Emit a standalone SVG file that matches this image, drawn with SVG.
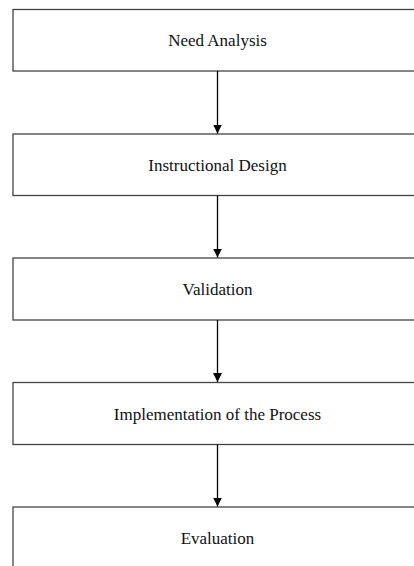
<svg xmlns="http://www.w3.org/2000/svg" width="414" height="566" viewBox="0 0 414 566">
<style>
.box{fill:#fff;stroke:#444;stroke-width:1.3}
.lbl{font-family:"Liberation Serif","Times New Roman",serif;font-size:17px;fill:#111;text-anchor:middle}
.con{stroke:#000;stroke-width:1.3;fill:none}
</style>
<defs>
<marker id="ah" markerUnits="userSpaceOnUse" markerWidth="10" markerHeight="9" refX="9" refY="4.5" orient="auto">
<path d="M0,0 L9,4.5 L0,9 Z" fill="#000"/>
</marker>
</defs>
<rect width="414" height="566" fill="#fff"/>
<g id="n1"><rect class="box" x="13" y="9.5" width="410" height="61.5"/><text class="lbl" x="217.5" y="46">Need Analysis</text></g>
<g id="n2"><rect class="box" x="13" y="134" width="410" height="61.5"/><text class="lbl" x="217.5" y="170.5">Instructional Design</text></g>
<g id="n3"><rect class="box" x="13" y="258" width="410" height="62"/><text class="lbl" x="217.5" y="295">Validation</text></g>
<g id="n4"><rect class="box" x="13" y="382.5" width="410" height="62"/><text class="lbl" x="217.5" y="419.5">Implementation of the Process</text></g>
<g id="n5"><rect class="box" x="13" y="507" width="410" height="70"/><text class="lbl" x="217.5" y="544">Evaluation</text></g>
<g id="connectors">
<line class="con" x1="217.5" y1="71" x2="217.5" y2="133.5" marker-end="url(#ah)"/>
<line class="con" x1="217.5" y1="195.5" x2="217.5" y2="257.5" marker-end="url(#ah)"/>
<line class="con" x1="217.5" y1="320" x2="217.5" y2="382" marker-end="url(#ah)"/>
<line class="con" x1="217.5" y1="444.5" x2="217.5" y2="506.5" marker-end="url(#ah)"/>
</g>
</svg>
